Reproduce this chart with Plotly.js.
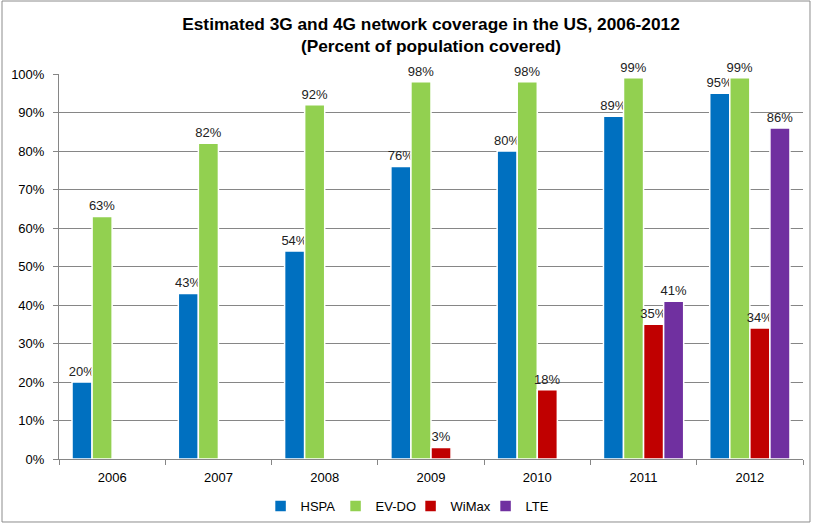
<!DOCTYPE html>
<html>
<head>
<meta charset="utf-8">
<script src="https://cdn.plot.ly/plotly-3.0.1.min.js"></script>
<style>body{margin:0;padding:0;background:#fff}#chart{width:813px;height:525px}</style>
</head>
<body>
<div id="chart"></div>
<script>
const years = ['2006','2007','2008','2009','2010','2011','2012'];
const hspa  = [20, 43, 54, 76, 80, 89, 95];
const evdo  = [63, 82, 92, 98, 98, 99, 99];
const wimax = [null, null, null, 3, 18, 35, 34];
const lte   = [null, null, null, null, null, 41, 86];
const seriesNames = ['HSPA','EV-DO','WiMax','LTE'];
const seriesColors = ['#0070C0','#92D050','#C00000','#7030A0'];
const yTickVals = [0,10,20,30,40,50,60,70,80,90,100];
const yTickText = yTickVals.map(v => v + '%');

const font = 'Liberation Sans, Arial, sans-serif';
const allSeries = [hspa, evdo, wimax, lte];
const traces = allSeries.map((vals, i) => ({
  type: 'bar',
  name: seriesNames[i],
  x: years,
  y: vals,
  text: vals.map(v => v == null ? '' : v + '%'),
  textposition: 'outside',
  constraintext: 'none',
  textfont: {family: font, size: 13, color: '#222'},
  cliponaxis: false,
  marker: {color: seriesColors[i], line: {color: '#ffffff', width: 1.5}},
  hoverinfo: 'x+y'
}));

const layout = {
  width: 813, height: 525,
  margin: {l: 59, r: 10, t: 74, b: 66, autoexpand: false},
  paper_bgcolor: '#ffffff', plot_bgcolor: '#ffffff',
  font: {family: font, size: 13, color: '#000'},
  title: {
    text: '<b>Estimated 3G and 4G network coverage in the US, 2006-2012<br>(Percent of population covered)</b>',
    font: {family: font, size: 17.3, color: '#000'},
    x: 0.5, xref: 'paper', xanchor: 'center',
    yref: 'container', y: 0.943, yanchor: 'middle'
  },
  barmode: 'group',
  bargap: 0.245,
  bargroupgap: 0,
  showlegend: true,
  legend: {
    orientation: 'h', xref: 'container', x: 0.505, xanchor: 'center',
    yref: 'container', y: 0.036, yanchor: 'middle',
    bgcolor: 'rgba(0,0,0,0)',
    entrywidth: 30, entrywidthmode: 'pixels',
    font: {family: font, size: 13, color: '#000'},
    traceorder: 'normal'
  },
  xaxis: {
    type: 'category',
    showline: true, linecolor: '#868686', linewidth: 1,
    ticks: 'outside', tickson: 'boundaries', ticklen: 5, tickcolor: '#868686',
    ticklabelstandoff: 6,
    showgrid: false, zeroline: false,
    tickfont: {family: font, size: 13, color: '#000'}
  },
  yaxis: {
    range: [0, 100],
    tickvals: yTickVals, ticktext: yTickText,
    showline: true, linecolor: '#868686', linewidth: 1,
    ticks: 'outside', ticklen: 5, tickcolor: '#868686',
    ticklabelstandoff: 6,
    showgrid: true, gridcolor: '#868686', gridwidth: 1,
    zeroline: false,
    tickfont: {family: font, size: 13, color: '#000'}
  },
  shapes: [{
    type: 'rect', xref: 'paper', yref: 'paper',
    x0: -0.0766, x1: 1.0094, y0: -0.1636, y1: 1.1896,
    line: {color: '#8c8c8c', width: 1}, fillcolor: 'rgba(0,0,0,0)', layer: 'below'
  }]
};

Plotly.newPlot('chart', traces, layout, {displayModeBar: false, staticPlot: true});
</script>
</body>
</html>
